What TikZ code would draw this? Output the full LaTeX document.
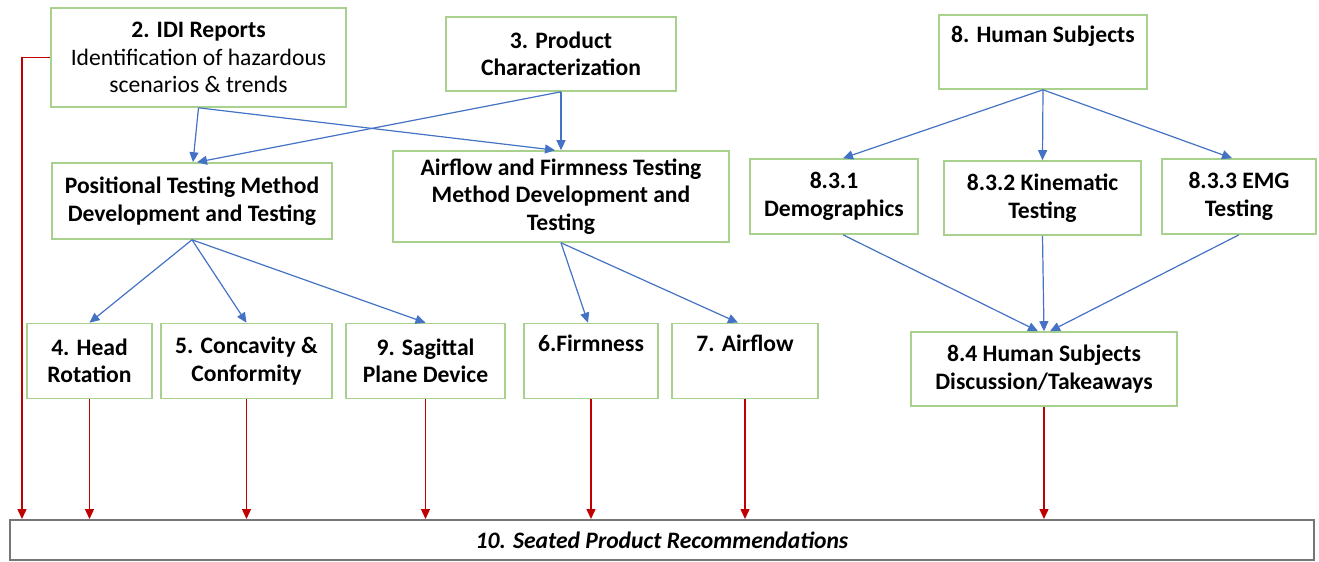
\documentclass[tikz,border=0pt]{standalone}
\usepackage{fontspec}
\setmainfont{Carlito}
\usepackage{tikz}
\usetikzlibrary{arrows.meta}
\definecolor{boxgreen}{HTML}{A9D18E}
\definecolor{arrowblue}{HTML}{4472C4}
\definecolor{arrowred}{HTML}{C00000}
\definecolor{framegray}{HTML}{767676}

\begin{document}
\begin{tikzpicture}[x=0.5pt,y=-0.5pt,
  box/.style n args={2}{draw=boxgreen,line width=0.8pt,fill=white,align=center,font=\fontsize{11.8}{13.8}\selectfont\bfseries,inner sep=0pt,minimum width=#1*0.5pt,minimum height=#2*0.5pt},
  bluearr/.style={draw=arrowblue,line width=0.6pt,-{Triangle[length=5pt,width=4.5pt]}},
  redarr/.style={draw=arrowred,line width=0.7pt,-{Triangle[length=5pt,width=4.5pt]}}]
\useasboundingbox (0,0) rectangle (1319,562);
% top row
\node[box={295}{99}] (idi) at (198.5,57.5) {2. IDI Reports\\\mdseries Identification of hazardous\\\mdseries scenarios \& trends};
\node[box={230}{74}] (prod) at (561,54) {3. Product\\Characterization};
\node[box={208}{74}] (human) at (1043,52) {8. Human Subjects\\\strut};
% method development
\node[box={280}{76}] (posit) at (192,201) {Positional Testing Method\\Development and Testing};
\node[box={336}{91}] (airfirm) at (561,196.5) {Airflow and Firmness Testing\\Method Development and\\Testing};
\node[box={168}{75}] (demo) at (834,196.5) {8.3.1\\Demographics};
\node[box={197}{74}] (kine) at (1042.5,198) {8.3.2 Kinematic\\Testing};
\node[box={154}{75}] (emg) at (1239,196.5) {8.3.3 EMG\\Testing};
% studies
\node[box={125}{75}] (head) at (89.5,361) {4. Head\\Rotation};
\node[box={171}{75}] (concav) at (246.5,361) {5. Concavity \&\\Conformity};
\node[box={159}{75}] (sagit) at (425.5,361) {9. Sagittal\\Plane Device};
\node[box={134}{75}] (firm) at (591,361) {6.Firmness\\\strut};
\node[box={146}{75}] (airflow) at (745,361) {7. Airflow\\\strut};
\node[box={266}{74}] (hsdisc) at (1044,369) {8.4 Human Subjects\\Discussion/Takeaways};
\node[draw=framegray,line width=1pt,fill=white,minimum width=652pt,minimum height=20pt,inner sep=0pt,font=\fontsize{11.8}{13.8}\selectfont\bfseries\itshape] (recom) at (662,540) {10. Seated Product Recommendations};
\coordinate (idileg) at (22,0);

\draw[bluearr] (idi.south) -- ([xshift=0.5pt]posit.north);
\draw[bluearr] (idi.south) -- ([xshift=-3pt]airfirm.north);
\draw[bluearr] (prod.south) -- (airfirm.north);
\draw[bluearr] (prod.south) -- ([xshift=2.5pt]posit.north);
\foreach \n in {head,concav,sagit} {
   \draw[bluearr] (posit.south) -- (\n.north);
}
\draw[bluearr] (airfirm.south) -- ([xshift=-1.5pt]firm.north);
\draw[bluearr] (airfirm.south) -- ([xshift=-3.5pt]airflow.north);
\draw[bluearr] (human.south) -- ([xshift=4.5pt]demo.north);
\draw[bluearr] (human.south) -- (kine.north);
\draw[bluearr] (human.south) -- ([xshift=-3.5pt]emg.north);
\draw[bluearr] ([xshift=4.5pt]demo.south) -- ([xshift=-3pt]hsdisc.north);
\draw[bluearr] (kine.south) -- (hsdisc.north);
\draw[bluearr] (emg.south) -- ([xshift=3pt]hsdisc.north);

\draw[redarr] (idi.west) -| (recom.north -| idileg);
\foreach \n in {head,concav,sagit,firm,airflow,hsdisc} {
   \draw[redarr] (\n.south) -- (\n.south |- recom.north);
}
\end{tikzpicture}
\end{document}
